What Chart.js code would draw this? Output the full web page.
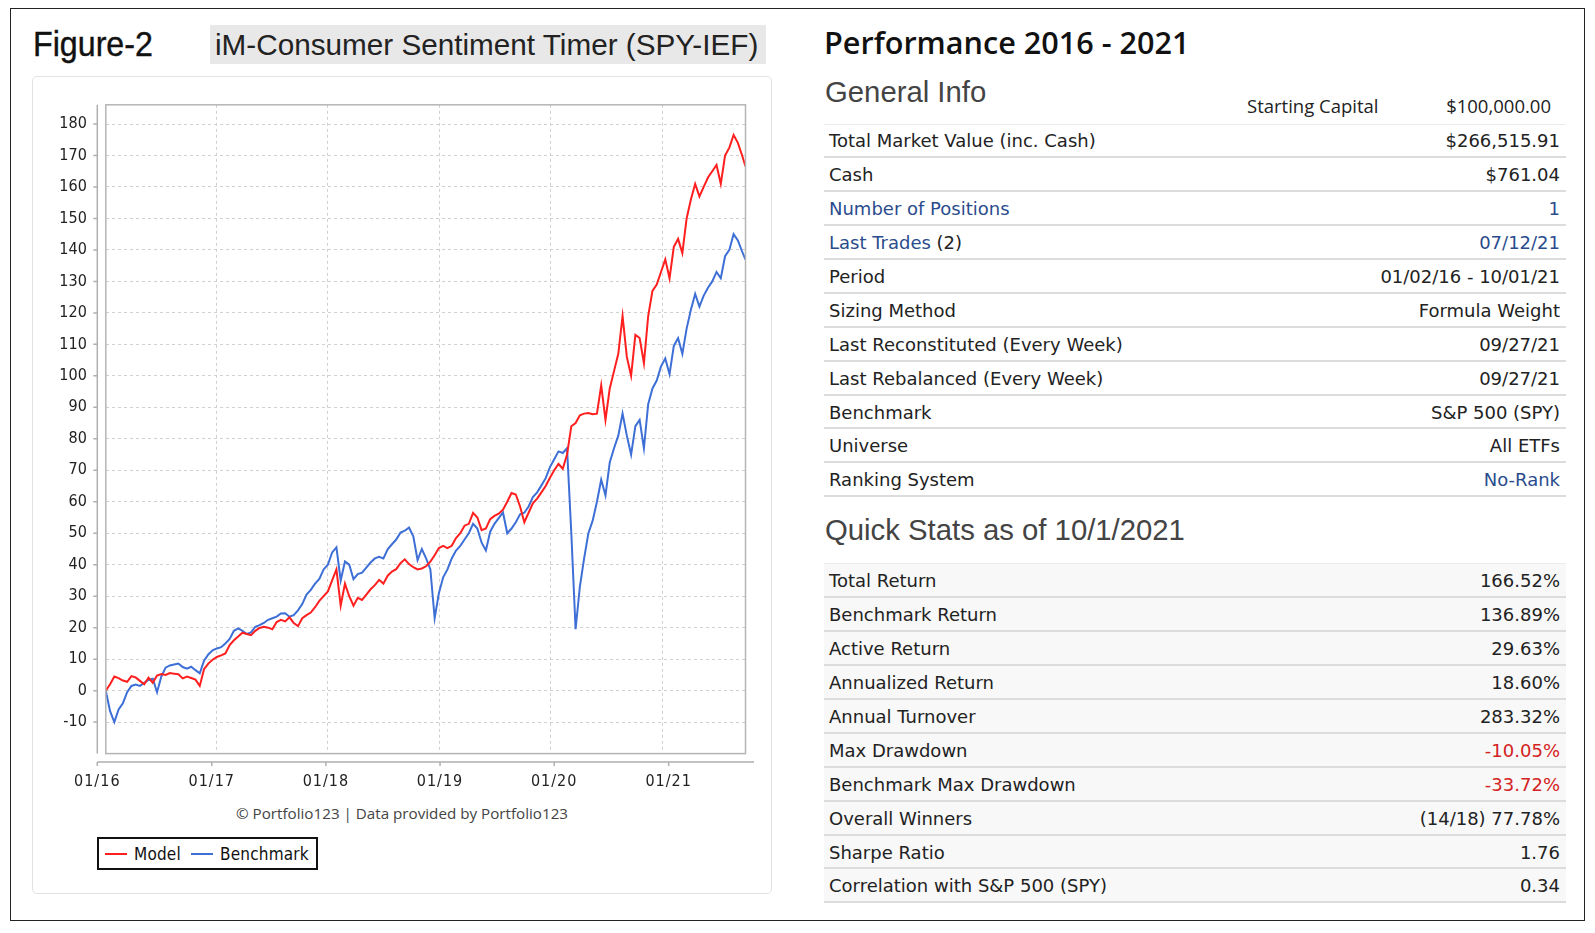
<!DOCTYPE html>
<html>
<head>
<meta charset="utf-8">
<title>iM-Consumer Sentiment Timer (SPY-IEF)</title>
<script src="https://cdn.jsdelivr.net/npm/chart.js@4.4.1/dist/chart.umd.min.js"></script>
<style>
  html, body { margin: 0; padding: 0; background: #fff; }
  body { width: 1595px; height: 933px; position: relative; overflow: hidden; color: #222; font-family: "DejaVu Sans", sans-serif; }
  .frame { position: absolute; left: 10px; top: 8px; width: 1573px; height: 911px; border: 1px solid #222; }
  .fig { position: absolute; left: 33px; top: 24px; font: 35px/40px "Liberation Sans", Arial, sans-serif; color: #111;
         transform: scaleX(0.92); transform-origin: left center; -webkit-text-stroke: 0.4px #111; }
  .title { position: absolute; left: 210px; top: 25px; width: 556px; height: 39px; background: #e8e8e8;
           font: 29.7px/39px "Liberation Sans", Arial, sans-serif; color: #222; padding-left: 5px; box-sizing: border-box; white-space: nowrap; }
  .panel { position: absolute; left: 32px; top: 76px; width: 740px; height: 818px; border: 1px solid #e2e2e2; border-radius: 5px; box-sizing: border-box; }
  .chartbox { position: absolute; left: 32px; top: 76px; width: 740px; height: 720px; }
  .credit { position: absolute; left: 202px; width: 400px; top: 803px; text-align: center; font: 15.2px/20px "Open Sans", sans-serif; color: #444; }
  .legend { position: absolute; left: 97px; top: 837px; width: 221px; height: 33px; border: 2px solid #111; box-sizing: border-box;
            font: 17px/29px "DejaVu Sans Condensed", "DejaVu Sans", sans-serif; letter-spacing: 0.2px; color: #111; white-space: nowrap; }
  .legend span { display: inline-block; vertical-align: middle; }
  .legend .sw { width: 22px; height: 2px; margin-right: 7px; }
  .perf { position: absolute; left: 824px; top: 22px; font: 600 30.6px/40px "Open Sans", sans-serif; color: #111; white-space: nowrap; }
  .sect { position: absolute; left: 825px; font: 29.3px/34px "Liberation Sans", Arial, sans-serif; color: #444; white-space: nowrap; }
  .cap { position: absolute; top: 92px; font: 18.5px/28px "Open Sans", sans-serif; color: #222; white-space: nowrap; }
  .line { position: absolute; left: 824px; width: 742px; height: 1px; background: #ececec; }
  .row { position: absolute; left: 824px; width: 742px; height: 31.94px; border-bottom: 2px solid #dcdcdc;
         font: 18px/33px "DejaVu Sans", sans-serif; color: #222; white-space: nowrap; }
  .row.shade { background: #f8f8f8; }
  .row .l { position: absolute; left: 5px; }
  .row .v { position: absolute; right: 6px; }
  .link { color: #2a4c8d; }
  .neg { color: #d42222; }
</style>
</head>
<body>
<div class="frame"></div>
<div class="fig">Figure-2</div>
<div class="title">iM-Consumer Sentiment Timer (SPY-IEF)</div>
<div class="panel"></div>
<div class="chartbox"><canvas id="perfChart"></canvas></div>
<div class="credit">&copy; Portfolio123 | Data provided by Portfolio123</div>
<div class="legend" id="legend"></div>

<div class="perf">Performance 2016 - 2021</div>
<div class="sect" style="top:75px">General Info</div>
<div class="cap" style="left:1247px">Starting Capital</div>
<div class="cap" style="right:44px">$100,000.00</div>
<div class="line" style="top:123.5px"></div>
<div id="general"></div>
<div class="sect" style="top:513px">Quick Stats as of 10/1/2021</div>
<div class="line" style="top:563px"></div>
<div id="stats"></div>

<script>
// sampling of the weekly chart: every second week from 01/04/16, last point 10/01/21
const startDay = 3;      // days after 01/01/16
const stepDays = 14;
const lastDay = 2100;    // 10/01/21

// cumulative return in %
const modelReturn = [
  0, 2, 4.5, 4.0, 3.2, 2.8, 4.6, 4.2, 3.1, 2.0, 4.1, 2.5, 4.8, 5.3, 5.0, 5.6, 5.4, 5.2, 3.9, 4.5, 4.0, 3.5, 1.5, 6.8, 8.6, 9.8,
  10.7, 11.2, 11.8, 14.5, 16, 17.2, 18.4, 18, 17.6, 19, 19.9, 20.3, 20, 19.5, 21.8, 22.5, 22, 23.3, 21.5, 20.5, 23, 24, 24.8, 26.5, 28.5, 30,
  31.5, 35, 38.5, 27, 34, 30, 27, 29.5, 28.8, 30.5, 32.2, 33.5, 35.2, 34, 36.5, 37.8, 38.6, 40.5, 41.7, 40.2, 39.2, 38.5, 38.8, 39.5, 41, 43,
  45.3, 46, 45.3, 46, 48.5, 50, 52.4, 53, 56.5, 55, 51, 51.5, 54.5, 55.5, 56.2, 57.5, 60, 62.8, 62.3, 58.5, 53.5, 56.5, 59.5, 61, 63, 65,
  67.6, 70, 72, 70.5, 75, 84, 85, 87.5, 88, 88.2, 87.8, 88, 97, 86, 96, 101.5, 107, 119, 106, 100, 113, 112, 104, 119, 127, 129,
  133, 137, 131, 141, 143.5, 139, 150, 156, 161, 157, 160, 163, 165, 167, 161, 170, 172.5, 176.5, 174, 170, 166.5
];
const benchmarkReturn = [
  0, -6.5, -10, -6, -4, -0.5, 1.5, 1.9, 1.5, 2.5, 3.4, 3.8, -0.5, 4.5, 7.3, 8, 8.3, 8.6, 7.5, 7, 7.6, 6.5, 5.5, 9.5, 11.5, 12.8,
  13.4, 13.8, 15, 16.4, 19, 19.8, 19, 18, 18.5, 20.3, 20.8, 21.5, 22.5, 23, 23.5, 24.5, 24.6, 23.5, 24, 25.5, 27.5, 30.5, 32, 34, 35.5, 38.5,
  40, 43.9, 45.5, 35, 41, 40, 35.4, 37, 37.5, 39.1, 40.7, 42, 42.5, 42, 44.9, 46.5, 48, 50.2, 50.8, 51.8, 49, 41.5, 45, 42, 38.5, 23,
  31, 36, 38.5, 42, 44.5, 46, 48, 50, 53, 51.5, 47, 44.5, 50.5, 53, 54.8, 56.6, 50, 51.5, 53.5, 56, 56.5, 58.5, 61.5, 63, 65.2, 67.5,
  71, 73.5, 76, 75.5, 77, 50, 19.5, 33, 42, 50, 54, 60, 67, 62, 72.5, 77, 81, 88, 81, 75, 84, 86, 77, 91, 96, 98.5,
  103, 105.5, 100.5, 109.5, 112, 107, 115, 121, 126, 122, 125.5, 128, 130, 133, 131, 138, 140, 145, 143, 139.5, 136.9
];

const yearDays = [0, 366, 731, 1096, 1461, 1827];
const yearLabels = ['01/16', '01/17', '01/18', '01/19', '01/20', '01/21'];
const yTicks = [-10, 0, 10, 20, 30, 40, 50, 60, 70, 80, 90, 100, 110, 120, 130, 140, 150, 160, 170, 180];

const days = modelReturn.map((v, i) => (i === modelReturn.length - 1 ? lastDay : startDay + i * stepDays));

const generalRows = [
  ['Total Market Value (inc. Cash)', '$266,515.91'],
  ['Cash', '$761.04'],
  ['<span class="link">Number of Positions</span>', '<span class="link">1</span>'],
  ['<span class="link">Last Trades</span> (2)', '<span class="link">07/12/21</span>'],
  ['Period', '01/02/16 - 10/01/21'],
  ['Sizing Method', 'Formula Weight'],
  ['Last Reconstituted (Every Week)', '09/27/21'],
  ['Last Rebalanced (Every Week)', '09/27/21'],
  ['Benchmark', 'S&amp;P 500 (SPY)'],
  ['Universe', 'All ETFs'],
  ['Ranking System', '<span class="link">No-Rank</span>']
];
const statRows = [
  ['Total Return', '166.52%'],
  ['Benchmark Return', '136.89%'],
  ['Active Return', '29.63%'],
  ['Annualized Return', '18.60%'],
  ['Annual Turnover', '283.32%'],
  ['Max Drawdown', '<span class="neg">-10.05%</span>'],
  ['Benchmark Max Drawdown', '<span class="neg">-33.72%</span>'],
  ['Overall Winners', '(14/18) 77.78%'],
  ['Sharpe Ratio', '1.76'],
  ['Correlation with S&amp;P 500 (SPY)', '0.34']
];

function buildRows(el, rows, top, shade) {
  el.innerHTML = rows.map((r, k) =>
    '<div class="row' + (shade ? ' shade' : '') + '" style="top:' + (top + k * 33.94).toFixed(2) + 'px">' +
    '<span class="l">' + r[0] + '</span><span class="v">' + r[1] + '</span></div>').join('');
}
buildRows(document.getElementById('general'), generalRows, 124, false);
buildRows(document.getElementById('stats'), statRows, 564, true);

const axisFont = '"DejaVu Sans Condensed", "DejaVu Sans", sans-serif';

// JFreeChart style: frame round the plot, axes drawn a few pixels away from it
const offsetAxes = {
  id: 'offsetAxes',
  afterDraw(chart) {
    const { ctx, chartArea: a, scales: { y } } = chart;
    const gap = 8.5;
    ctx.save();
    ctx.strokeStyle = '#b5b5b5';
    ctx.lineWidth = 1.5;
    ctx.strokeRect(a.left, a.top, a.right - a.left, a.bottom - a.top);

    ctx.strokeStyle = '#b0b0b0';
    const ax = a.left - gap;
    const ay = a.bottom + gap;
    ctx.beginPath();
    ctx.moveTo(ax, a.top);
    ctx.lineTo(ax, a.bottom);
    ctx.moveTo(ax, ay);
    ctx.lineTo(a.right + gap, ay);
    y.ticks.forEach(t => {
      const py = y.getPixelForValue(t.value);
      ctx.moveTo(ax - 4, py);
      ctx.lineTo(ax, py);
    });
    const span = a.right + gap - ax;
    yearDays.forEach(d => {
      const px = ax + d / lastDay * span;
      ctx.moveTo(px, ay);
      ctx.lineTo(px, ay + 4);
    });
    ctx.stroke();

    ctx.fillStyle = '#222';
    ctx.font = '16px ' + axisFont;
    ctx.letterSpacing = '1px';
    ctx.textAlign = 'center';
    ctx.textBaseline = 'middle';
    yearDays.forEach((d, i) => {
      ctx.fillText(yearLabels[i], ax + d / lastDay * span, a.bottom + 28);
    });
    ctx.restore();
  }
};

const chart = new Chart(document.getElementById('perfChart').getContext('2d'), {
  type: 'line',
  data: {
    datasets: [
      {
        label: 'Model',
        data: days.map((d, i) => ({ x: d, y: modelReturn[i] })),
        borderColor: '#ff1f1f',
        borderWidth: 2,
        pointRadius: 0,
        tension: 0,
        order: 0
      },
      {
        label: 'Benchmark',
        data: days.map((d, i) => ({ x: d, y: benchmarkReturn[i] })),
        borderColor: '#3d6fd6',
        borderWidth: 2,
        pointRadius: 0,
        tension: 0,
        order: 1
      }
    ]
  },
  options: {
    responsive: true,
    maintainAspectRatio: false,
    animation: false,
    layout: { padding: { left: 0, top: 28.8, right: 26.5, bottom: 12.4 } },
    plugins: { legend: { display: false }, tooltip: { enabled: false } },
    scales: {
      x: {
        type: 'linear',
        min: startDay,
        max: lastDay,
        afterBuildTicks: s => { s.ticks = yearDays.filter(d => d > startDay).map(d => ({ value: d })); },
        afterFit: s => { s.height = 30; },
        ticks: { display: false },
        grid: { color: '#d0d0d0', drawTicks: false },
        border: { display: false, dash: [3, 3] }
      },
      y: {
        min: -20,
        max: 186.1,
        afterBuildTicks: s => { s.ticks = yTicks.map(v => ({ value: v })); },
        afterFit: s => { s.width = 73.8; },
        ticks: { padding: 19, color: '#222', font: { family: axisFont, size: 16 } },
        grid: { color: '#d0d0d0', drawTicks: false },
        border: { display: false, dash: [3, 3] }
      }
    }
  },
  plugins: [offsetAxes]
});

// legend box below the chart, from the datasets
document.getElementById('legend').innerHTML = chart.data.datasets.map((ds, i) =>
  '<span class="sw" style="margin-left:' + (i === 0 ? 6 : 10) + 'px;background:' + ds.borderColor + '"></span>' +
  '<span>' + ds.label + '</span>').join('');
</script>
</body>
</html>
